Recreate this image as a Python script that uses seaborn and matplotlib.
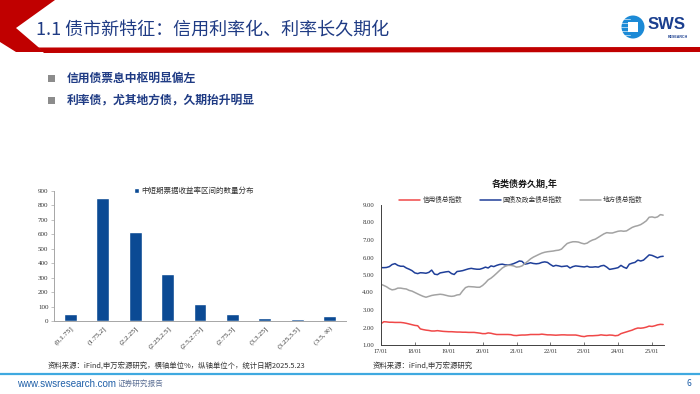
import numpy as np
import pandas as pd
import matplotlib
matplotlib.use("Agg")
import matplotlib.pyplot as plt
import matplotlib.dates as mdates
from matplotlib.ticker import FormatStrFormatter
from matplotlib.patches import Polygon, Rectangle, Circle, Patch
from matplotlib.lines import Line2D
import seaborn as sns

# --- left chart: count of notes per yield bucket ---
bins = ["(0,1.75]", "(1.75,2]", "(2,2.25]", "(2.25,2.5]", "(2.5,2.75]",
        "(2.75,3]", "(3,3.25]", "(3.25,3.5]", "(3.5, ∞)"]
counts = [46, 855, 613, 325, 115, 51, 21, 14, 35]
bar_label = "中短期票据收益率区间的数量分布"

# --- right chart: monthly duration, 2017/01 .. 2025/05 ---
start_month = "2017-01-01"
credit = [2.22, 2.33, 2.32, 2.30, 2.30, 2.29, 2.29, 2.29, 2.27, 2.24, 2.20, 2.16,
          2.12, 2.10, 1.92, 1.88, 1.85, 1.83, 1.80, 1.80, 1.82, 1.80, 1.78, 1.77,
          1.76, 1.76, 1.75, 1.74, 1.74, 1.73, 1.73, 1.72, 1.72, 1.72, 1.70, 1.68,
          1.65, 1.65, 1.69, 1.67, 1.63, 1.60, 1.60, 1.60, 1.60, 1.60, 1.59, 1.55,
          1.54, 1.56, 1.57, 1.57, 1.58, 1.60, 1.60, 1.60, 1.60, 1.62, 1.60, 1.58,
          1.58, 1.57, 1.56, 1.57, 1.58, 1.58, 1.57, 1.57, 1.57, 1.57, 1.54, 1.50,
          1.48, 1.52, 1.53, 1.53, 1.54, 1.55, 1.58, 1.56, 1.55, 1.57, 1.56, 1.53,
          1.55, 1.65, 1.70, 1.75, 1.80, 1.85, 1.92, 1.97, 1.96, 1.98, 2.02, 2.08,
          2.06, 2.10, 2.15, 2.18, 2.17]
govt = [5.42, 5.42, 5.43, 5.48, 5.60, 5.65, 5.55, 5.50, 5.50, 5.40, 5.33, 5.25,
        5.12, 5.08, 5.13, 5.12, 5.10, 5.15, 5.28, 5.05, 5.02, 5.12, 5.15, 5.18,
        5.20, 5.08, 5.03, 5.20, 5.22, 5.25, 5.30, 5.35, 5.38, 5.35, 5.33, 5.33,
        5.38, 5.45, 5.40, 5.52, 5.48, 5.55, 5.60, 5.62, 5.58, 5.57, 5.60, 5.65,
        5.72, 5.80, 5.78, 5.62, 5.65, 5.70, 5.66, 5.64, 5.66, 5.72, 5.75, 5.72,
        5.60, 5.50, 5.55, 5.52, 5.48, 5.50, 5.52, 5.40, 5.48, 5.52, 5.50, 5.48,
        5.46, 5.50, 5.45, 5.45, 5.47, 5.45, 5.52, 5.55, 5.45, 5.32, 5.35, 5.38,
        5.42, 5.55, 5.45, 5.38, 5.62, 5.68, 5.72, 5.85, 5.80, 5.85, 6.00, 6.15,
        6.12, 6.05, 5.98, 6.05, 6.07]
local = [4.47, 4.40, 4.33, 4.22, 4.15, 4.18, 4.25, 4.25, 4.22, 4.20, 4.12, 4.08,
         4.00, 3.92, 3.85, 3.78, 3.73, 3.78, 3.83, 3.86, 3.88, 3.90, 3.88, 3.84,
         3.80, 3.78, 3.80, 3.86, 3.88, 4.10, 4.28, 4.34, 4.33, 4.32, 4.30, 4.30,
         4.40, 4.55, 4.72, 4.82, 4.95, 5.10, 5.25, 5.40, 5.50, 5.55, 5.55, 5.52,
         5.45, 5.47, 5.52, 5.65, 5.78, 5.92, 6.02, 6.10, 6.18, 6.25, 6.30, 6.33,
         6.35, 6.37, 6.40, 6.42, 6.48, 6.65, 6.80, 6.86, 6.90, 6.90, 6.88, 6.82,
         6.78, 6.82, 6.92, 7.00, 7.05, 7.15, 7.25, 7.35, 7.42, 7.40, 7.40, 7.45,
         7.50, 7.52, 7.50, 7.52, 7.62, 7.72, 7.78, 7.82, 7.88, 7.98, 8.10, 8.30,
         8.32, 8.28, 8.32, 8.45, 8.42]
series_names = ["信用债总指数", "国债及政金债总指数", "地方债总指数"]
series_colors = ["#F04848", "#1F3F99", "#A3A3A3"]

months = pd.date_range(start_month, periods=len(credit), freq="MS")
df = pd.DataFrame({
    "date": np.tile(months, 3),
    "value": credit + govt + local,
    "series": np.repeat(series_names, len(credit)),
})

sns.set_theme(style="white")
plt.rcParams["font.family"] = ["Noto Sans CJK SC", "DejaVu Sans"]
NUM = ["Liberation Serif", "Noto Sans CJK SC", "DejaVu Sans"]
NAVY = "#1F3B84"
TXT = "#333333"

fig = plt.figure(figsize=(7, 3.94), dpi=100)
bg = fig.add_axes([0, 0, 1, 1], zorder=0)
bg.set_xlim(0, 700)
bg.set_ylim(394, 0)
bg.axis("off")

# header: red chevron + band
red = "#C00000"
bg.add_patch(Polygon([(0, 0), (55, 0), (16, 28), (44, 52), (16, 52), (0, 42)],
                     closed=True, color=red, lw=0))
bg.add_patch(Polygon([(38, 47.5), (700, 47), (700, 52), (44, 53)],
                     closed=True, color=red, lw=0))
bg.text(36, 30, "1.1 债市新特征：信用利率化、利率长久期化", fontsize=13,
        fontweight="medium", color=NAVY, ha="left", va="center")

# logo
bg.add_patch(Circle((633, 27), 11.5, color="#1C8AD6", lw=0))
for yy in (19, 23, 27, 31, 35):
    bg.plot([621, 630], [yy, yy], color="white", lw=0.6, alpha=0.7)
bg.add_patch(Rectangle((628, 22), 10, 10, color="white", lw=0))
bg.text(648, 24, "SWS", fontsize=12, fontweight="bold", color="#1B3F8F",
        family="Liberation Sans", ha="left", va="center")
bg.text(688, 36.5, "RESEARCH", fontsize=2.6, fontweight="bold", color="#1B3F8F",
        family="Liberation Sans", ha="right", va="center")

# bullets
for yy, txt in [(78, "信用债票息中枢明显偏左"), (100, "利率债，尤其地方债，久期抬升明显")]:
    bg.add_patch(Rectangle((48, yy - 3.5), 7, 7, color="#8C8C8C", lw=0))
    bg.text(67, yy, txt, fontsize=8.5, fontweight="bold", color=NAVY,
            ha="left", va="center")

# footer
bg.plot([0, 700], [374, 374], color="#3FA9E0", lw=1.6)
bg.text(17, 384, "www.swsresearch.com", fontsize=7, color="#1F5FA8",
        family="Liberation Sans", ha="left", va="center")
bg.text(118, 384, "证券研究报告", fontsize=5.5, color="#5A6E94", ha="left", va="center")
bg.text(689, 384, "6", fontsize=6, color="#1F5FA8", ha="center", va="center")

# sources
bg.text(48, 366, "资料来源：iFind,申万宏源研究，横轴单位%，纵轴单位个，统计日期2025.5.23",
        fontsize=5.3, color=TXT, ha="left", va="center")
bg.text(373, 366, "资料来源：iFind,申万宏源研究", fontsize=5.3, color=TXT,
        ha="left", va="center")

# ---------- bar chart ----------
ax1 = fig.add_axes([54 / 700, 1 - 321 / 394, 292 / 700, 130 / 394])
sns.barplot(x=bins, y=counts, color="#0B4A94", width=0.4, saturation=1, ax=ax1)
ax1.set_xlim(-0.5, 8.5)
ax1.set_ylim(0, 900)
ax1.set_yticks(range(0, 901, 100))
ax1.set_xlabel("")
ax1.set_ylabel("")
for s in ("top", "right"):
    ax1.spines[s].set_visible(False)
for s in ("left", "bottom"):
    ax1.spines[s].set_color("#A6A6A6")
    ax1.spines[s].set_linewidth(0.7)
ax1.tick_params(axis="y", length=2, width=0.5, color="#A6A6A6", pad=2,
                labelsize=5, labelcolor=TXT, left=True)
ax1.tick_params(axis="x", length=0, pad=3, labelsize=5.4, labelcolor=TXT)
for lab in ax1.get_yticklabels():
    lab.set_family(NUM)
for lab in ax1.get_xticklabels():
    lab.set_family(NUM)
    lab.set_rotation(45)
    lab.set_ha("right")
    lab.set_rotation_mode("anchor")
ax1.legend(handles=[Patch(facecolor="#0B4A94", label=bar_label)],
           loc="center", bbox_to_anchor=(194 / 700, 1 - 191 / 394),
           bbox_transform=fig.transFigure, frameon=False, fontsize=5.4,
           handlelength=0.6, handleheight=0.6, handletextpad=0.3,
           labelcolor=TXT, borderpad=0)

# ---------- line chart ----------
ax2 = fig.add_axes([381 / 700, 1 - 345 / 394, 283 / 700, 140 / 394])
sns.lineplot(data=df, x="date", y="value", hue="series", hue_order=series_names,
             palette=series_colors, linewidth=1.1, legend=False, ax=ax2)
ax2.set_ylim(1, 9)
ax2.set_yticks(np.arange(1, 9.01, 1))
ax2.yaxis.set_major_formatter(FormatStrFormatter("%.2f"))
ax2.set_xlim(pd.Timestamp("2017-01-01"), pd.Timestamp("2025-05-10"))
ax2.xaxis.set_major_locator(mdates.YearLocator())
ax2.xaxis.set_major_formatter(mdates.DateFormatter("%y/%m"))
ax2.set_xlabel("")
ax2.set_ylabel("")
for s in ("top", "right"):
    ax2.spines[s].set_visible(False)
for s in ("left", "bottom"):
    ax2.spines[s].set_color("#404040")
    ax2.spines[s].set_linewidth(0.7)
ax2.tick_params(axis="x", direction="in", length=2.5, width=0.5, color="#404040",
                pad=3, labelsize=4.5, labelcolor=TXT, bottom=True)
ax2.tick_params(axis="y", length=0, pad=5, labelsize=4.8, labelcolor=TXT)
for lab in ax2.get_xticklabels() + ax2.get_yticklabels():
    lab.set_family(NUM)

handles = [Line2D([], [], color=c, lw=1.1) for c in series_colors]
ax2.legend(handles, series_names, loc="center", ncol=3,
           bbox_to_anchor=(521 / 700, 1 - 200 / 394), bbox_transform=fig.transFigure,
           frameon=False, fontsize=4.8, handlelength=3.2, handletextpad=0.3,
           columnspacing=2.6, labelcolor=TXT, borderpad=0)
bg.text(525, 184, "各类债券久期,年", fontsize=6.5, fontweight="bold",
        color="#1A1A1A", ha="center", va="center")

fig.savefig("out.png", dpi=100)
